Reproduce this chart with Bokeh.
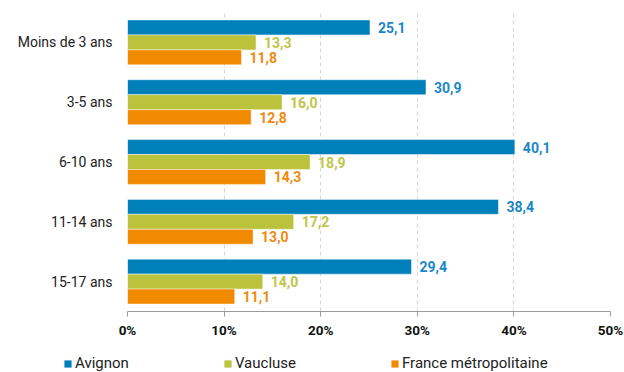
from bokeh.plotting import figure
from bokeh.layouts import column
from bokeh.models import ColumnDataSource, FactorRange, FixedTicker, Legend, LegendItem
from bokeh.transform import dodge
from bokeh.core.properties import value
from bokeh.embed import file_html
from bokeh.resources import INLINE

categories = ["Moins de 3 ans", "3-5 ans", "6-10 ans", "11-14 ans", "15-17 ans"]
avignon = [25.1, 30.9, 40.1, 38.4, 29.4]
vaucluse = [13.3, 16.0, 18.9, 17.2, 14.0]
france = [11.8, 12.8, 14.3, 13.0, 11.1]
series_names = ["Avignon", "Vaucluse", "France métropolitaine"]
tick_values = [0, 10, 20, 30, 40, 50]
tick_labels = ["0%", "10%", "20%", "30%", "40%", "50%"]

bar_colors = ["#0080ba", "#bbc23c", "#f28a00"]
label_colors = ["#1a87c6", "#c0c548", "#f08a0c"]
FONT = "Roboto"

def fr(v):
    return f"{v:.1f}".replace(".", ",")

src = ColumnDataSource(dict(
    cat=categories,
    avignon=avignon, vaucluse=vaucluse, france=france,
    l_avignon=[fr(v) for v in avignon],
    l_vaucluse=[fr(v) for v in vaucluse],
    l_france=[fr(v) for v in france],
))

p = figure(width=624, height=340, output_backend="svg", toolbar_location=None,
           y_range=FactorRange(factors=list(reversed(categories)), range_padding=0),
           x_range=(0, 50),
           min_border_left=127, min_border_right=14, min_border_top=12, min_border_bottom=27)
p.outline_line_color = None
p.background_fill_color = "white"
p.border_fill_color = "white"

cols = ["avignon", "vaucluse", "france"]
offsets = [0.25, 0.0, -0.25]
for c, off, bc, lc in zip(cols, offsets, bar_colors, label_colors):
    p.hbar(y=dodge("cat", off, range=p.y_range), right=c, left=0, height=0.25,
           source=src, fill_color=bc, line_color="white", line_alpha=0.45, line_width=1)
    p.text(x=c, y=dodge("cat", off, range=p.y_range), text="l_" + c, source=src,
           x_offset=8, text_baseline="middle", text_align="left",
           text_color=lc, text_font=value(FONT), text_font_style="bold",
           text_font_size="14px")

# axes
xa = p.xaxis[0]
xa.ticker = FixedTicker(ticks=tick_values)
xa.major_label_overrides = {v: s for v, s in zip(tick_values, tick_labels)}
xa.axis_line_color = "#9a9a9a"
xa.major_tick_line_color = "#9a9a9a"
xa.major_tick_in = 0
xa.major_tick_out = 5
xa.minor_tick_line_color = None
xa.major_label_standoff = 5
xa.major_label_text_font = FONT
xa.major_label_text_font_style = "bold"
xa.major_label_text_font_size = "13.5px"
xa.major_label_text_color = "#111111"

ya = p.yaxis[0]
ya.axis_line_color = None
ya.major_tick_line_color = None
ya.minor_tick_line_color = None
ya.major_tick_out = 0
ya.major_label_standoff = 15
ya.major_label_text_font = FONT
ya.major_label_text_font_size = "14px"
ya.major_label_text_color = "#222222"

p.ygrid.grid_line_color = None
p.xgrid.grid_line_color = "#d6d6d6"
p.xgrid.grid_line_dash = "4 3"
p.xgrid.ticker = FixedTicker(ticks=tick_values)

# legend strip (separate figure so the legend can sit left of the plot frame)
lg = figure(width=624, height=32, output_backend="svg", toolbar_location=None,
            x_axis_location=None, y_axis_location=None, min_border=0,
            x_range=(0, 1), y_range=(0, 1))
lg.outline_line_color = None
lg.grid.grid_line_color = None
for fig in (p, lg):
    if hasattr(fig, "frame_align"):
        fig.frame_align = False
# zero-width helper bars (outside the strip's range) only provide legend swatches
swatches = [lg.hbar(y=c, right=0, left=0, height=0.25, source=src,
                    fill_color=bc, line_color=None)
            for c, bc in zip(cols, bar_colors)]
legend = Legend(items=[LegendItem(label=n, renderers=[r]) for n, r in zip(series_names, swatches)],
                orientation="horizontal", location=(63, 0),
                padding=0, margin=0, spacing=94,
                glyph_width=9, glyph_height=9, label_standoff=3, label_height=17,
                label_text_font=FONT, label_text_font_size="15px", label_text_color="#222222",
                border_line_color=None, background_fill_alpha=0)
lg.add_layout(legend, "center")

layout = column(p, lg, spacing=0)
open("out.html", "w").write(file_html(layout, INLINE))
